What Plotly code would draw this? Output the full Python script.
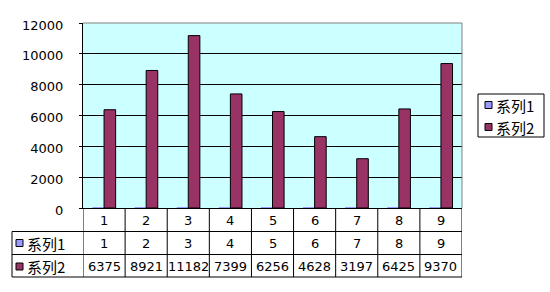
import plotly.graph_objects as go

categories = ["1", "2", "3", "4", "5", "6", "7", "8", "9"]
series_names = ["系列1", "系列2"]
series1 = [1, 2, 3, 4, 5, 6, 7, 8, 9]
series2 = [6375, 8921, 11182, 7399, 6256, 4628, 3197, 6425, 9370]
y_ticks = [0, 2000, 4000, 6000, 8000, 10000, 12000]
colors = ["#9999FF", "#993366"]

W, H = 550, 292
PL, PR, PT, PB = 83, 462, 23, 208  # plot area in pixels


def py(p):  # pixel y -> paper y
    return (PB - p) / (PB - PT)


def px(p):  # pixel x -> paper x
    return (p - PL) / (PR - PL)


fig = go.Figure()
xs = list(range(len(categories)))
for name, vals, col in zip(series_names, [series1, series2], colors):
    fig.add_trace(go.Bar(x=xs, y=vals, name=name, showlegend=False,
                         marker=dict(color=col, line=dict(color="black", width=1 if vals is series2 else 0))))

NUMFONT = dict(family="DejaVu Sans", size=13, color="black")
CJKFONT = dict(family="Noto Sans CJK SC", size=15, color="black")

shapes = []
annotations = []

# plot area top/right grey border
shapes.append(dict(type="line", xref="paper", yref="paper", x0=0, x1=1, y0=1, y1=1,
                   line=dict(color="#808080", width=1), layer="above"))
shapes.append(dict(type="line", xref="paper", yref="paper", x0=1, x1=1, y0=0, y1=1,
                   line=dict(color="#808080", width=1), layer="above"))

# data table
row_lines = [py(231.5), py(254.5), py(277)]
row_centers = [py(220), py(243), py(266.5)]
left_x = px(12)
for yl in row_lines:
    shapes.append(dict(type="line", xref="paper", yref="paper", x0=left_x, x1=1, y0=yl, y1=yl,
                       line=dict(color="black", width=1)))
shapes.append(dict(type="line", xref="paper", yref="paper", x0=left_x, x1=left_x,
                   y0=row_lines[0], y1=row_lines[2], line=dict(color="black", width=1)))
for i in range(len(categories) + 1):
    shapes.append(dict(type="line", xref="x", yref="paper", x0=i - 0.5, x1=i - 0.5,
                       y0=0, y1=row_lines[2], line=dict(color="black", width=1)))

rows = [categories, [str(v) for v in series1], [str(v) for v in series2]]
for r, (vals, yc) in enumerate(zip(rows, row_centers)):
    for i, t in enumerate(vals):
        annotations.append(dict(x=i, y=yc, xref="x", yref="paper", text=t, showarrow=False,
                                font=NUMFONT, xanchor="center", yanchor="middle"))

# row headers with keys
for name, col, yc in zip(series_names, colors, row_centers[1:]):
    shapes.append(dict(type="rect", xref="paper", yref="paper",
                       x0=px(16), x1=px(23), y0=yc + 3.5 / 185, y1=yc - 3.5 / 185,
                       fillcolor=col, line=dict(color="black", width=1)))
    annotations.append(dict(x=px(25), y=yc, xref="paper", yref="paper", text=name, showarrow=False,
                            font=CJKFONT, xanchor="left", yanchor="middle"))

# legend box
shapes.append(dict(type="rect", xref="paper", yref="paper", x0=px(478), x1=px(544),
                   y0=py(94), y1=py(137), line=dict(color="black", width=1), fillcolor="white"))
for name, col, yc in zip(series_names, colors, [105, 127]):
    shapes.append(dict(type="rect", xref="paper", yref="paper", x0=px(485), x1=px(492),
                       y0=py(yc - 3.5), y1=py(yc + 3.5), fillcolor=col, line=dict(color="black", width=1)))
    annotations.append(dict(x=px(494), y=py(yc), xref="paper", yref="paper", text=name, showarrow=False,
                            font=CJKFONT, xanchor="left", yanchor="middle"))

fig.update_layout(
    width=W, height=H,
    margin=dict(l=PL, r=W - PR, t=PT, b=H - PB, pad=0),
    paper_bgcolor="white",
    plot_bgcolor="#CCFFFF",
    barmode="group",
    bargap=0.45,
    bargroupgap=0,
    showlegend=False,
    shapes=shapes,
    annotations=annotations,
    xaxis=dict(range=[-0.5, len(categories) - 0.5], showticklabels=False, ticks="",
               showgrid=False, zeroline=False, showline=True, linecolor="black", linewidth=1,
               fixedrange=True),
    yaxis=dict(range=[0, 12000], tickvals=y_ticks, ticktext=[str(v) for v in y_ticks],
               showgrid=True, gridcolor="black", gridwidth=1, zeroline=False,
               showline=True, linecolor="black", linewidth=1,
               ticks="outside", ticklen=3, tickcolor="black", tickwidth=1,
               ticklabelstandoff=13, ticklabelshift=2, tickfont=NUMFONT, fixedrange=True),
)

fig.write_html("out.html")
